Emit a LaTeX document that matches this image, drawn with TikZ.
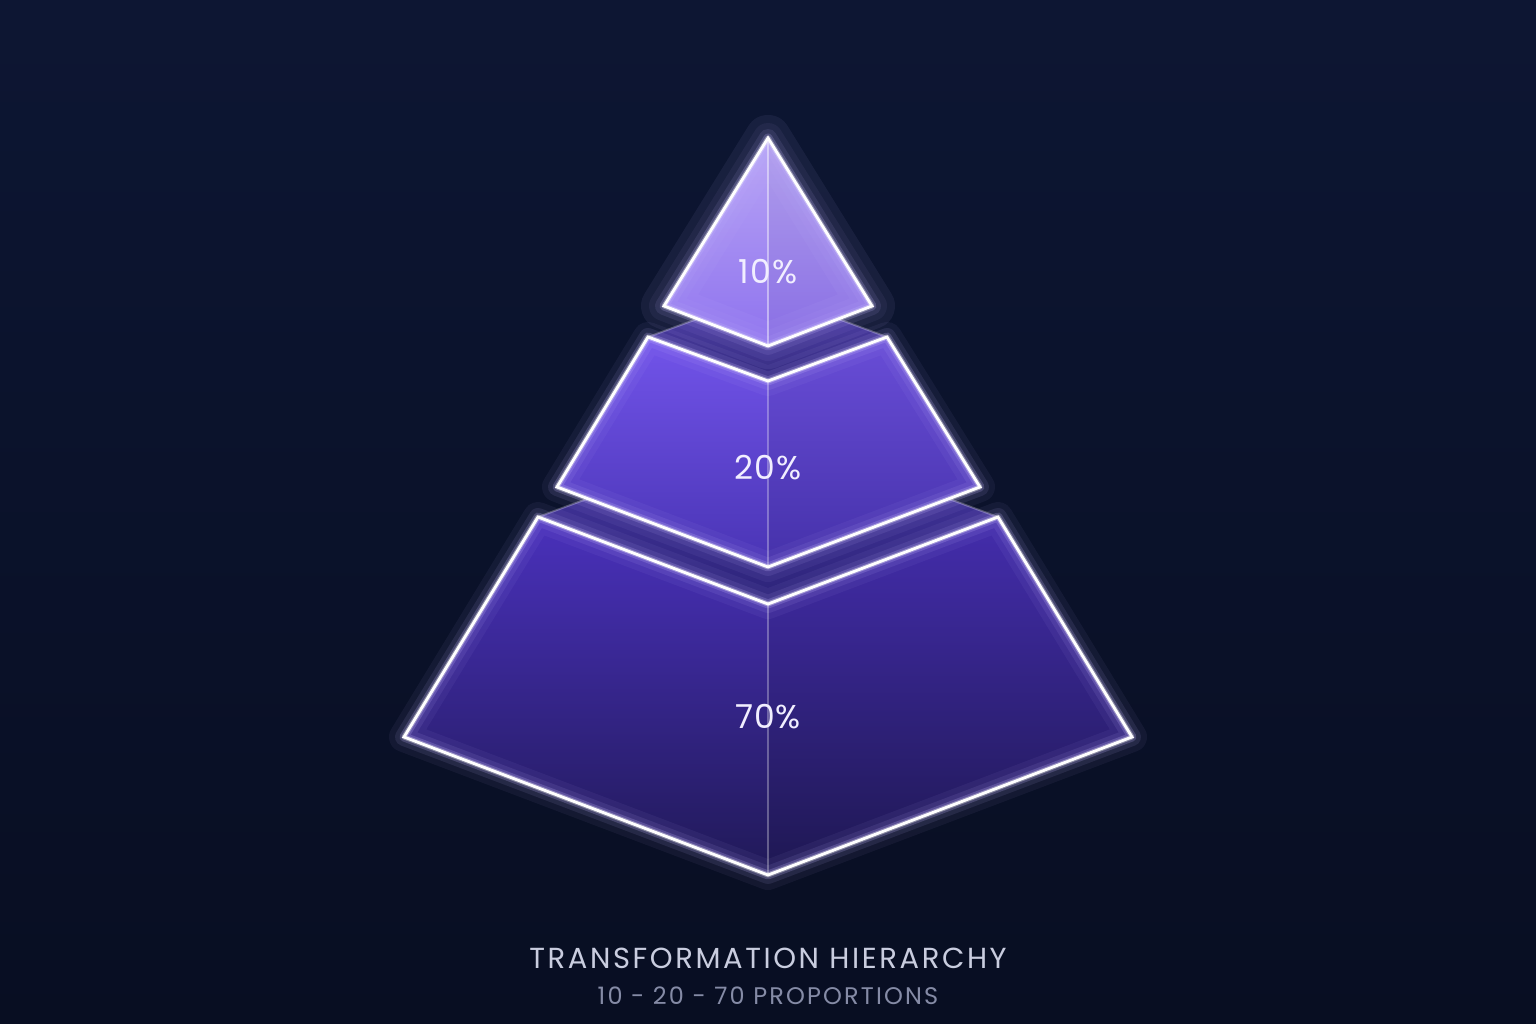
\documentclass[tikz,border=0pt]{standalone}
\usepackage{fontspec}
\setmainfont{Poppins}
\newfontfamily\titlefont[LetterSpace=9]{Poppins}
\newfontfamily\pctfont[LetterSpace=3]{Poppins}
\usetikzlibrary{calc}
\definecolor{bgtop}{HTML}{0D1633}
\definecolor{bgbot}{HTML}{080E22}
\definecolor{glow}{HTML}{C4B6FF}
\definecolor{topA}{HTML}{B9A6F6}
\definecolor{topB}{HTML}{8E72EE}
\definecolor{midA}{HTML}{7254EA}
\definecolor{midB}{HTML}{4934B4}
\definecolor{botA}{HTML}{4A31BC}
\definecolor{botB}{HTML}{201957}
\definecolor{gapA}{HTML}{4A3AA6}
\definecolor{gapB}{HTML}{2C2378}
\definecolor{pcttext}{HTML}{F1EEFF}
\definecolor{titletext}{HTML}{C9CDDF}
\definecolor{subtext}{HTML}{858BA6}

\begin{document}
\begin{tikzpicture}[x=1pt,y=-1pt,
    halo/.style={preaction={draw=glow,opacity=.06,line width=30pt,line join=round},
                 preaction={draw=glow,opacity=.10,line width=18pt,line join=round},
                 preaction={draw=glow,opacity=.22,line width=9pt,line join=round},
                 preaction={draw=white,opacity=.35,line width=5pt,line join=round}},
    outline/.style={halo,draw=white,line width=2.8pt,line join=miter},
    spine/.style={draw=white,opacity=.3,line width=1.6pt},
    backedge/.style={draw=white,opacity=.28,line width=2pt},
    pct/.style={text=pcttext,font=\pctfont\fontsize{33}{38}\selectfont}]
  % background
  \fill[top color=bgtop,bottom color=bgbot] (0,0) rectangle (1536,1024);
  \useasboundingbox (0,0) rectangle (1536,1024);
  % corners of the tiers
  \coordinate (ta) at (768,138);  \coordinate (tl) at (664,306);
  \coordinate (tr) at (872,306);  \coordinate (tf) at (768,346);
  \coordinate (ml) at (648,337);  \coordinate (mn) at (768,381);
  \coordinate (mr) at (887,337);  \coordinate (mk) at (768,293);
  \coordinate (mbl) at (557,487); \coordinate (mbr) at (980,487);
  \coordinate (mf) at (768,567);
  \coordinate (bl) at (538,517);  \coordinate (bn) at (768,604);
  \coordinate (br) at (998,517);  \coordinate (bk) at (768,432);
  \coordinate (bbl) at (404,737); \coordinate (bbr) at (1132,737);
  \coordinate (bf) at (768,875);
  % bottom tier
  \fill[top color=gapA,bottom color=gapB] (bl) -- (bn) -- (br) -- (bk) -- cycle;
  \draw[backedge] (bl) -- (bk) -- (br);
  \fill[top color=botA,bottom color=botB] (bl) -- (bn) -- (bf) -- (bbl) -- cycle;
  \fill[top color=botA!92!black,bottom color=botB!94!black] (bn) -- (br) -- (bbr) -- (bf) -- cycle;
  \draw[outline] (bl) -- (bn) -- (br) -- (bbr) -- (bf) -- (bbl) -- cycle;
  \draw[spine] (bn) -- (bf);
  % middle tier
  \fill[top color=gapA,bottom color=gapB] (ml) -- (mn) -- (mr) -- (mk) -- cycle;
  \draw[backedge] (ml) -- (mk) -- (mr);
  \fill[top color=midA,bottom color=midB] (ml) -- (mn) -- (mf) -- (mbl) -- cycle;
  \fill[top color=midA!92!black,bottom color=midB!94!black] (mn) -- (mr) -- (mbr) -- (mf) -- cycle;
  \draw[outline] (ml) -- (mn) -- (mr) -- (mbr) -- (mf) -- (mbl) -- cycle;
  \draw[spine] (mn) -- (mf);
  % top tier
  \fill[glow,opacity=.06] (ta) -- (tr) -- (tf) -- (tl) -- cycle;
  \fill[top color=topA,bottom color=topB] (ta) -- (tf) -- (tl) -- cycle;
  \fill[top color=topA!96!black,bottom color=topB!96!black] (ta) -- (tr) -- (tf) -- cycle;
  \draw[outline,preaction={draw=glow,opacity=.07,line width=46pt,line join=round}]
    (ta) -- (tr) -- (tf) -- (tl) -- cycle;
  \draw[spine,opacity=.45] (ta) -- (tf);
  % labels
  \node[pct] (p10) at (768,272) {10\%};
  \node[pct] (p20) at (768,468) {20\%};
  \node[pct] (p70) at (768,717) {70\%};
  \node[text=titletext,font=\titlefont\fontsize{29}{34}\selectfont] (title) at (768,958) {TRANSFORMATION HIERARCHY};
  \node[text=subtext,font=\titlefont\fontsize{24}{28}\selectfont] (sub) at (768,996) {10 - 20 - 70 PROPORTIONS};
\end{tikzpicture}
\end{document}
